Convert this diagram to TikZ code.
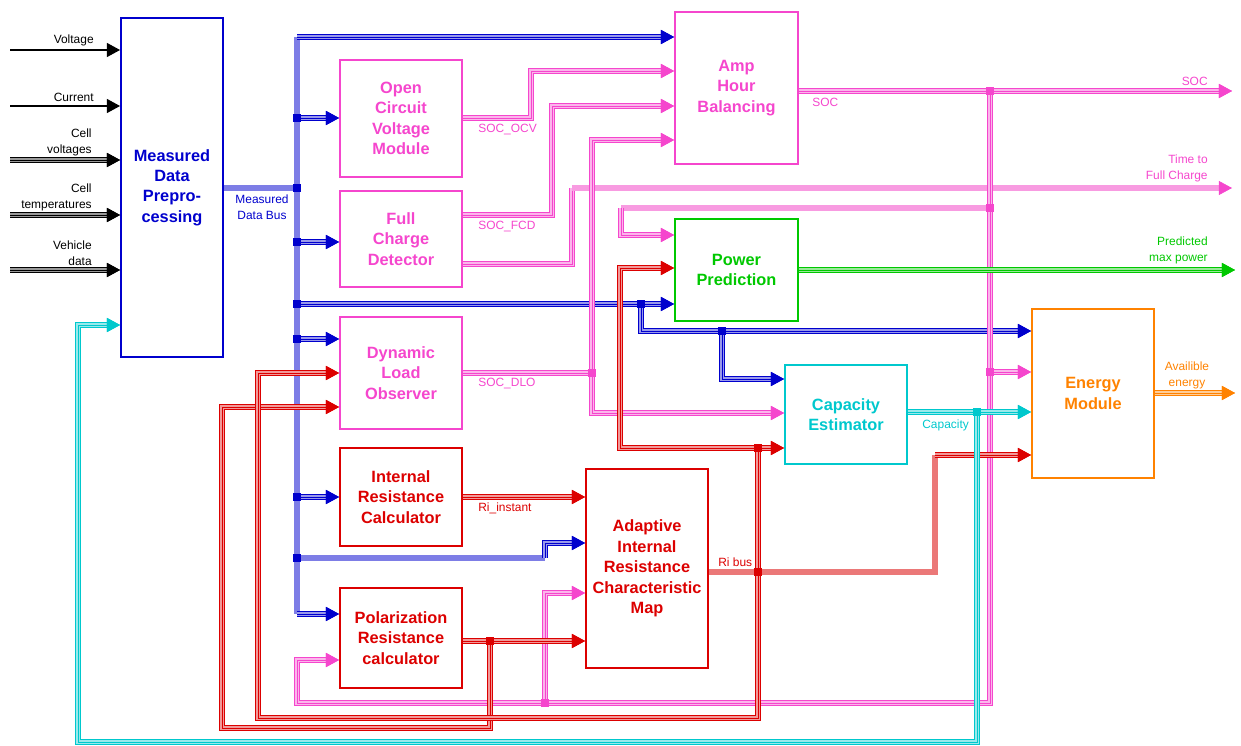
\documentclass[tikz,border=0pt]{standalone}
\usepackage{fontspec}
\setsansfont{Liberation Sans}
\usetikzlibrary{arrows.meta}
\definecolor{dblue}{RGB}{0,0,205}
\definecolor{bblue}{RGB}{125,125,230}
\definecolor{mag}{RGB}{245,70,205}
\definecolor{lmag}{RGB}{248,155,225}
\definecolor{dred}{RGB}{220,0,0}
\definecolor{rbus}{RGB}{235,120,120}
\definecolor{dgreen}{RGB}{0,200,0}
\definecolor{dcyan}{RGB}{0,200,205}
\definecolor{dorange}{RGB}{255,130,0}

\begin{document}
\begin{tikzpicture}[x=0.02cm, y=-0.02cm,
	box/.style={draw=#1, text=#1, line width=1.1pt, inner sep=0pt, align=center,
		font=\sffamily\bfseries\fontsize{9.3}{11.6}\selectfont},
	wire/.style={draw=#1, line width=0.6pt, double=#1!40, double distance=1.8pt,
		postaction={draw=#1, line width=0.4pt}},
	bus/.style={draw=#1, line width=3.6pt},
	arr/.style={-{Triangle[length=7.5pt, width=8pt]}},
	barr/.style={-{Triangle[length=7.5pt, width=8pt, line width=0.4pt, color=#1]}},
	jn/.style={fill=#1, rectangle, inner sep=0pt, minimum size=4.5pt},
	lbl/.style={text=#1, inner sep=0pt, align=right, font=\sffamily\fontsize{6.8}{9}\selectfont}]
	\useasboundingbox (0,0) rectangle (1241,746);
	% blocks
	\node[box=dblue, minimum width=2.04cm, minimum height=6.78cm] (mdp) at (172,187.5) {Measured\\Data\\Prepro-\\cessing};
	\node[box=mag, minimum width=2.44cm, minimum height=2.34cm] (ocv) at (401,118.5) {Open\\Circuit\\Voltage\\Module};
	\node[box=mag, minimum width=2.44cm, minimum height=1.92cm] (fcd) at (401,239) {Full\\Charge\\Detector};
	\node[box=mag, minimum width=2.44cm, minimum height=2.24cm] (dlo) at (401,373) {Dynamic\\Load\\Observer};
	\node[box=dred, minimum width=2.44cm, minimum height=1.96cm] (irc) at (401,497) {Internal\\Resistance\\Calculator};
	\node[box=dred, minimum width=2.44cm, minimum height=2.0cm] (prc) at (401,638) {Polarization\\Resistance\\calculator};
	\node[box=mag, minimum width=2.46cm, minimum height=3.04cm] (ahb) at (736.5,88) {Amp\\Hour\\Balancing};
	\node[box=dgreen, minimum width=2.46cm, minimum height=2.04cm] (pp) at (736.5,270) {Power\\Prediction};
	\node[box=dcyan, minimum width=2.44cm, minimum height=1.98cm] (ce) at (846,414.5) {Capacity\\Estimator};
	\node[box=dred, minimum width=2.44cm, minimum height=3.98cm] (air) at (647,568.5) {Adaptive\\Internal\\Resistance\\Characteristic\\Map};
	\node[box=dorange, minimum width=2.44cm, minimum height=3.38cm] (em) at (1093,393.5) {Energy\\Module};

	% inputs
	\coordinate (vin) at (10,50);
	\coordinate (iin) at (10,106);
	\coordinate (cvin) at (10,160);
	\coordinate (ctin) at (10,215);
	\coordinate (vdin) at (10,270);
	\draw[line width=0.6pt, arr] (vin) -- (mdp.west |- vin);
	\draw[line width=0.6pt, arr] (iin) -- (mdp.west |- iin);
	\draw[wire=black, arr] (cvin) -- (mdp.west |- cvin);
	\draw[wire=black, arr] (ctin) -- (mdp.west |- ctin);
	\draw[wire=black, arr] (vdin) -- (mdp.west |- vdin);
	\node[lbl=black, anchor=south east] (lv) at (94,46) {Voltage};
	\node[lbl=black, anchor=south east] (li) at (94,102) {Current};
	\node[lbl=black, anchor=south east] (lcv) at (92,156) {Cell\\voltages};
	\node[lbl=black, anchor=south east] (lct) at (92,211) {Cell\\temperatures};
	\node[lbl=black, anchor=south east] (lvd) at (92,266) {Vehicle\\data};

	% measured data bus
	\coordinate (bt) at (297,37);
	\coordinate (bb) at (297,614);
	\coordinate (jb0) at (297,188);
	\coordinate (jb1) at (297,118);
	\coordinate (jb3) at (297,242);
	\coordinate (jb4) at (297,304);
	\coordinate (jb5) at (297,339);
	\coordinate (jb6) at (297,497);
	\coordinate (jb7) at (297,558);
	\coordinate (jb8) at (641,304);
	\coordinate (jb9) at (722,331);
	\coordinate (bstep) at (545,558);
	\draw[bus=bblue] (mdp.east |- jb0) -- (jb0);
	\draw[bus=bblue] (bt) -- (bb);
	\draw[wire=dblue, arr] (bt) -- (ahb.west |- bt);
	\draw[wire=dblue, arr] (jb1) -- (ocv.west |- jb1);
	\draw[wire=dblue, arr] (jb3) -- (fcd.west |- jb3);
	\draw[wire=dblue, arr] (jb4) -- (pp.west |- jb4);
	\draw[wire=dblue, arr] (jb8) |- (em.west |- 0,331);
	\draw[wire=dblue, arr] (jb9) |- (ce.west |- 0,379);
	\draw[wire=dblue, arr] (jb5) -- (dlo.west |- jb5);
	\draw[wire=dblue, arr] (jb6) -- (irc.west |- jb6);
	\draw[bus=bblue] (jb7) -- (bstep);
	\draw[wire=dblue, arr] (bstep) |- (air.west |- 0,543);
	\draw[wire=dblue, arr] (bb) -- (prc.west |- bb);
	\node[lbl=dblue, align=center] (lmdb) at (262,207) {Measured\\Data Bus};

	% SOC signals
	\coordinate (jd) at (592,373);
	\coordinate (tfc) at (572,188);
	\coordinate (tfcout) at (1232,188);
	\coordinate (js1) at (990,91);
	\coordinate (js2) at (990,208);
	\coordinate (js3) at (990,372);
	\coordinate (js5) at (545,703);
	\coordinate (sc) at (990,703);
	\coordinate (ppin) at (621,208);
	\coordinate (socout) at (1232,91);
	\draw[wire=mag, arr] (ocv.east |- 0,118) -| (531,71) -- (ahb.west |- 0,71);
	\draw[wire=mag, arr] (fcd.east |- 0,215) -| (552,106) -- (ahb.west |- 0,106);
	\draw[wire=mag] (fcd.east |- 0,264) -| (tfc);
	\draw[bus=lmag, barr=mag] (tfc) -- (tfcout);
	\draw[wire=mag] (dlo.east |- jd) -- (jd);
	\draw[wire=mag, arr] (jd) |- (ahb.west |- 0,140);
	\draw[wire=mag, arr] (jd) |- (ce.west |- 0,413);
	\draw[wire=mag, arr] (ahb.east |- js1) -- (socout);
	\draw[wire=mag, arr] (js1) -- (sc) -- (297,703) |- (prc.west |- 0,660);
	\draw[bus=lmag] (js2) -- (ppin);
	\draw[wire=mag, arr] (ppin) |- (pp.west |- 0,235);
	\draw[wire=mag, arr] (js3) -- (em.west |- js3);
	\draw[wire=mag, arr] (js5) |- (air.west |- 0,593);
	\node[lbl=mag, anchor=west] (locv) at (478,130) {SOC\_OCV};
	\node[lbl=mag, anchor=west] (lfcd) at (478,227) {SOC\_FCD};
	\node[lbl=mag, anchor=west] (ldlo) at (478,384) {SOC\_DLO};
	\node[lbl=mag, anchor=west] (lsoc1) at (812,102) {SOC};
	\node[lbl=mag, anchor=south east] (lsoc2) at (1208,86) {SOC};
	\node[lbl=mag, anchor=south east] (ltfc) at (1208,182) {Time to\\Full Charge};

	% power
	\coordinate (pmout) at (1235,270);
	\draw[wire=dgreen, arr] (pp.east |- pmout) -- (pmout);
	\node[lbl=dgreen, anchor=south east] (lpmp) at (1208,264) {Predicted\\max power};

	% resistance
	\coordinate (jr1) at (490,641);
	\coordinate (jr2) at (758,572);
	\coordinate (jr3) at (758,448);
	\coordinate (rbt) at (935,455);
	\draw[wire=dred, arr] (irc.east |- 0,497) -- (air.west |- 0,497);
	\draw[wire=dred, arr] (prc.east |- jr1) -- (air.west |- jr1);
	\draw[wire=dred, arr] (jr1) -- (490,728) -| (222,407) -- (dlo.west |- 0,407);
	\draw[bus=rbus] (air.east |- jr2) -| (rbt);
	\draw[wire=dred, arr] (rbt) -- (em.west |- rbt);
	\draw[wire=dred, arr] (jr3) -- (758,718) -| (258,373) -- (dlo.west |- 0,373);
	\draw[wire=dred, arr] (jr3) -- (ce.west |- jr3);
	\draw[wire=dred, arr] (jr3) -| (620,268) -- (pp.west |- 0,268);
	\node[lbl=dred, anchor=west] (lri) at (478,508) {Ri\_instant};
	\node[lbl=dred, anchor=west] (lrib) at (718,562) {Ri bus};

	% capacity
	\coordinate (jc) at (977,412);
	\draw[wire=dcyan, arr] (ce.east |- jc) -- (em.west |- jc);
	\draw[wire=dcyan, arr] (jc) -- (977,742) -| (78,325) -- (mdp.west |- 0,325);
	\node[lbl=dcyan, anchor=west] (lcap) at (922,425) {Capacity};

	% energy
	\coordinate (aeout) at (1235,393);
	\draw[wire=dorange, arr] (em.east |- aeout) -- (aeout);
	\node[lbl=dorange, anchor=south, align=center] (lae) at (1187,389) {Availible\\energy};

	% junctions
	\node[jn=dblue] (d0) at (jb0) {};
	\node[jn=dblue] (d1) at (jb1) {};
	\node[jn=dblue] (d3) at (jb3) {};
	\node[jn=dblue] (d4) at (jb4) {};
	\node[jn=dblue] (d5) at (jb5) {};
	\node[jn=dblue] (d6) at (jb6) {};
	\node[jn=dblue] (d7) at (jb7) {};
	\node[jn=dblue] (d8) at (jb8) {};
	\node[jn=dblue] (d9) at (jb9) {};
	\node[jn=mag] (dm1) at (jd) {};
	\node[jn=mag] (dm2) at (js1) {};
	\node[jn=mag] (dm3) at (js2) {};
	\node[jn=mag] (dm4) at (js3) {};
	\node[jn=mag] (dm5) at (js5) {};
	\node[jn=dred] (dr1) at (jr1) {};
	\node[jn=dred] (dr2) at (jr2) {};
	\node[jn=dred] (dr3) at (jr3) {};
	\node[jn=dcyan] (dc1) at (jc) {};
\end{tikzpicture}
\end{document}
